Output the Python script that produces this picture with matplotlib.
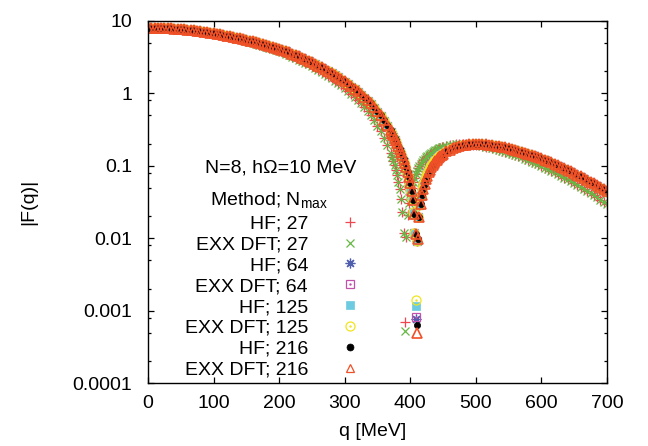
import numpy as np
import matplotlib
matplotlib.use("Agg")
import matplotlib.pyplot as plt
from matplotlib.ticker import FixedLocator, NullFormatter

plt.rcParams["font.family"] = ["Liberation Sans", "DejaVu Sans"]
plt.rcParams["font.size"] = 14

# q grid [MeV]: 5 MeV on the two lobes, 2 MeV around the diffraction minimum
q_lo = np.arange(0, 371, 5)
q_mid = np.arange(372, 449, 2)
q_hi = np.arange(450, 701, 5)

# |F(q)|, Nmax = 27 (HF and EXX DFT lie on top of each other)
f27_lo = [8.000, 7.996, 7.984, 7.965, 7.938, 7.903, 7.861, 7.811, 7.754, 7.689,
          7.618, 7.540, 7.455, 7.364, 7.267, 7.164, 7.055, 6.940, 6.821, 6.696,
          6.567, 6.453, 6.335, 6.211, 6.084, 5.953, 5.818, 5.680, 5.539, 5.395,
          5.249, 5.111, 4.970, 4.828, 4.684, 4.538, 4.392, 4.244, 4.095, 3.947,
          3.799, 3.648, 3.498, 3.348, 3.201, 3.055, 2.911, 2.769, 2.630, 2.493,
          2.359, 2.225, 2.094, 1.968, 1.845, 1.725, 1.609, 1.497, 1.389, 1.284,
          1.183, 1.083, 0.988, 0.897, 0.811, 0.729, 0.651, 0.572, 0.494, 0.422,
          0.356, 0.297, 0.242, 0.193, 0.149]
f27_mid = [0.1303, 0.1155, 0.1011, 0.0871, 0.0735, 0.0604, 0.0476, 0.0353, 0.0233, 0.0117,
           np.nan, 0.0103, 0.0207, 0.0308, 0.0405, 0.0499, 0.0590, 0.0677, 0.0760, 0.0840,
           0.0917, 0.0992, 0.1063, 0.1130, 0.1196, 0.1258, 0.1318, 0.1374, 0.1420, 0.1466,
           0.1508, 0.1553, 0.1594, 0.1633, 0.1671, 0.1704, 0.1737, 0.1767, 0.1795]
f27_hi = [0.1820, 0.1876, 0.1919, 0.1951, 0.1973, 0.1986, 0.1991, 0.1987, 0.1977, 0.1960,
          0.1937, 0.1909, 0.1877, 0.1841, 0.1801, 0.1757, 0.1712, 0.1665, 0.1615, 0.1564,
          0.1513, 0.1460, 0.1407, 0.1354, 0.1300, 0.1247, 0.1195, 0.1143, 0.1092, 0.1042,
          0.0993, 0.0945, 0.0898, 0.0852, 0.0808, 0.0766, 0.0724, 0.0684, 0.0646, 0.0609,
          0.0574, 0.0539, 0.0507, 0.0477, 0.0447, 0.0419, 0.0392, 0.0367, 0.0342, 0.0320,
          0.0298]

# Nmax = 64 and 125 coincide within what can be read
f125_lo = [8.000, 7.996, 7.986, 7.968, 7.943, 7.911, 7.872, 7.827, 7.774, 7.715,
           7.650, 7.578, 7.500, 7.417, 7.327, 7.232, 7.131, 7.026, 6.915, 6.800,
           6.680, 6.576, 6.468, 6.355, 6.237, 6.115, 5.991, 5.863, 5.731, 5.597,
           5.438, 5.310, 5.179, 5.047, 4.914, 4.769, 4.632, 4.494, 4.344, 4.203,
           4.061, 3.914, 3.769, 3.622, 3.479, 3.335, 3.194, 3.054, 2.915, 2.778,
           2.643, 2.509, 2.377, 2.248, 2.121, 2.000, 1.880, 1.763, 1.651, 1.540,
           1.435, 1.328, 1.227, 1.130, 1.036, 0.946, 0.861, 0.780, 0.702, 0.624,
           0.549, 0.480, 0.411, 0.349, 0.292]
f125_mid = [0.2689, 0.2478, 0.2276, 0.2081, 0.1895, 0.1716, 0.1560, 0.1408, 0.1261, 0.1118,
            0.0979, 0.0845, 0.0714, 0.0587, 0.0464, 0.0345, 0.0230, 0.0118, np.nan, 0.0093,
            0.0194, 0.0291, 0.0385, 0.0475, 0.0562, 0.0646, 0.0727, 0.0804, 0.0879, 0.0950,
            0.1018, 0.1084, 0.1147, 0.1207, 0.1264, 0.1318, 0.1370, 0.1420, 0.1467]
f125_hi = [0.1516, 0.1616, 0.1703, 0.1776, 0.1838, 0.1888, 0.1927, 0.1956, 0.1976, 0.1987,
           0.1991, 0.1987, 0.1977, 0.1961, 0.1940, 0.1913, 0.1882, 0.1848, 0.1811, 0.1770,
           0.1727, 0.1682, 0.1635, 0.1587, 0.1537, 0.1488, 0.1437, 0.1386, 0.1334, 0.1283,
           0.1232, 0.1182, 0.1132, 0.1084, 0.1036, 0.0989, 0.0942, 0.0897, 0.0854, 0.0811,
           0.0770, 0.0731, 0.0692, 0.0654, 0.0618, 0.0584, 0.0551, 0.0519, 0.0490, 0.0460,
           0.0432]

# Nmax = 216
f216_lo = [8.000, 7.996, 7.986, 7.968, 7.943, 7.911, 7.872, 7.827, 7.774, 7.715,
           7.650, 7.578, 7.500, 7.417, 7.327, 7.232, 7.131, 7.026, 6.915, 6.800,
           6.680, 6.576, 6.468, 6.355, 6.237, 6.115, 5.991, 5.863, 5.731, 5.597,
           5.461, 5.332, 5.201, 5.067, 4.932, 4.795, 4.656, 4.516, 4.374, 4.233,
           4.091, 3.945, 3.799, 3.654, 3.510, 3.367, 3.226, 3.086, 2.947, 2.810,
           2.676, 2.541, 2.410, 2.281, 2.154, 2.032, 1.912, 1.795, 1.682, 1.571,
           1.465, 1.358, 1.256, 1.158, 1.064, 0.973, 0.887, 0.805, 0.726, 0.646,
           0.571, 0.501, 0.431, 0.367, 0.308]
f216_mid = [0.2862, 0.2645, 0.2437, 0.2236, 0.2044, 0.1860, 0.1700, 0.1544, 0.1393, 0.1247,
            0.1104, 0.0966, 0.0831, 0.0701, 0.0575, 0.0452, 0.0333, 0.0219, 0.0113, np.nan,
            0.0099, 0.0199, 0.0296, 0.0389, 0.0480, 0.0566, 0.0650, 0.0731, 0.0808, 0.0883,
            0.0954, 0.1022, 0.1088, 0.1151, 0.1211, 0.1268, 0.1323, 0.1375, 0.1424]
f216_hi = [0.1472, 0.1578, 0.1670, 0.1748, 0.1814, 0.1869, 0.1912, 0.1945, 0.1969, 0.1984,
           0.1991, 0.1990, 0.1983, 0.1970, 0.1951, 0.1927, 0.1898, 0.1866, 0.1830, 0.1791,
           0.1749, 0.1705, 0.1660, 0.1612, 0.1563, 0.1514, 0.1464, 0.1413, 0.1362, 0.1311,
           0.1260, 0.1210, 0.1160, 0.1111, 0.1063, 0.1015, 0.0969, 0.0923, 0.0879, 0.0836,
           0.0794, 0.0754, 0.0715, 0.0677, 0.0640, 0.0605, 0.0572, 0.0539, 0.0508, 0.0479,
           0.0450]

# series (plot order) and the sample point that falls closest to each zero
labels = ["HF; 27", "EXX DFT; 27", "HF; 64", "EXX DFT; 64",
          "HF; 125", "EXX DFT; 125", "HF; 216", "EXX DFT; 216"]
nmax = [27, 27, 64, 64, 125, 125, 216, 216]
dip_q = [392, 392, 408, 408, 408, 408, 410, 410]
dip_f = [0.0007, 0.00052, 0.00078, 0.00083, 0.00118, 0.0014, 0.00063, 0.0005]

q = np.concatenate([q_lo, q_mid, q_hi])
curves = {
    27: np.concatenate([f27_lo, f27_mid, f27_hi]),
    64: np.concatenate([f125_lo, f125_mid, f125_hi]),
    125: np.concatenate([f125_lo, f125_mid, f125_hi]),
    216: np.concatenate([f216_lo, f216_mid, f216_hi]),
}

# gnuplot-like point types
styles = [
    dict(marker="+", ms=7, mec="#f04652", mfc="none", mew=0.9),
    dict(marker="x", ms=5.5, mec="#66b944", mfc="none", mew=0.9),
    dict(marker=(8, 2, 0), ms=7, mec="#4f5fae", mfc="none", mew=0.9),
    dict(marker="s", ms=5.5, mec="#c251ab", mfc="none", mew=0.9),
    dict(marker="s", ms=5.5, mec="#6ccbe0", mfc="#6ccbe0", mew=0.5),
    dict(marker="o", ms=6.5, mec="#f2e41c", mfc="none", mew=0.9),
    dict(marker="o", ms=4.5, mec="black", mfc="black", mew=0.5),
    dict(marker="^", ms=7, mec="#ef5027", mfc="none", mew=1.2),
]
centre_dot = [False, False, False, True, False, True, False, False]


def draw(ax, x, y, i, **kw):
    ax.plot(x, y, linestyle="none", **styles[i], **kw)
    if centre_dot[i]:
        ax.plot(x, y, linestyle="none", marker=".", ms=1.5,
                color=styles[i]["mec"], **kw)


fig = plt.figure(figsize=(6.48, 4.46), dpi=100)
ax = fig.add_axes([0.2284, 0.1406, 0.7083, 0.8130])

for i in range(len(labels)):
    f = curves[nmax[i]]
    draw(ax, q, f, i)
    draw(ax, [dip_q[i]], [dip_f[i]], i)

ax.set_yscale("log")
ax.set_xlim(0, 700)
ax.set_ylim(1e-4, 10)
ax.set_xticks(range(0, 701, 100))
ax.set_yticks([1e-4, 1e-3, 1e-2, 1e-1, 1, 10])
ax.set_yticklabels(["0.0001", "0.001", "0.01", "0.1", "1", "10"])
ax.yaxis.set_minor_locator(FixedLocator([m * 10.0 ** e for e in range(-4, 1) for m in (2, 5, 8)]))
ax.yaxis.set_minor_formatter(NullFormatter())
ax.tick_params(which="both", direction="in", top=True, right=True, labelsize=14)
ax.tick_params(which="major", length=4, width=0.9)
ax.tick_params(which="minor", length=2.5, width=0.9)
ax.tick_params(axis="y", pad=11.5)
ax.tick_params(axis="x", pad=8.4)
for s in ax.spines.values():
    s.set_linewidth(1.0)

ax.set_xlabel("q [MeV]", fontsize=14)
ax.xaxis.set_label_coords(0.49, -0.11)
ax.set_ylabel("|F(q)|", fontsize=14)
ax.yaxis.set_label_coords(-0.242, 0.5)

# key, laid out like the gnuplot one
ax.text(0.2898, 0.5827, "N=8, h\u03a9=10 MeV", transform=ax.transAxes,
        ha="center", va="baseline", fontsize=14)
ax.text(0.2625, 0.4908, "Method; N$_\\mathregular{max}$", transform=ax.transAxes,
        ha="center", va="baseline", fontsize=14)
key_styles = [dict(s) for s in styles]
key_styles[7].update(ms=6, mew=0.9)
key_styles[6].update(ms=5)
for i, lab in enumerate(labels):
    ax.text(0.3486, 0.4264 - 0.05753 * i, lab, transform=ax.transAxes,
            ha="right", va="baseline", fontsize=14)
    ym = 0.4457 - 0.05753 * i
    ax.plot([0.4401], [ym], linestyle="none", transform=ax.transAxes,
            clip_on=False, **key_styles[i])
    if centre_dot[i]:
        ax.plot([0.4401], [ym], linestyle="none", marker=".", ms=1.5,
                color=styles[i]["mec"], transform=ax.transAxes, clip_on=False)

fig.savefig("out.png", dpi=100)
